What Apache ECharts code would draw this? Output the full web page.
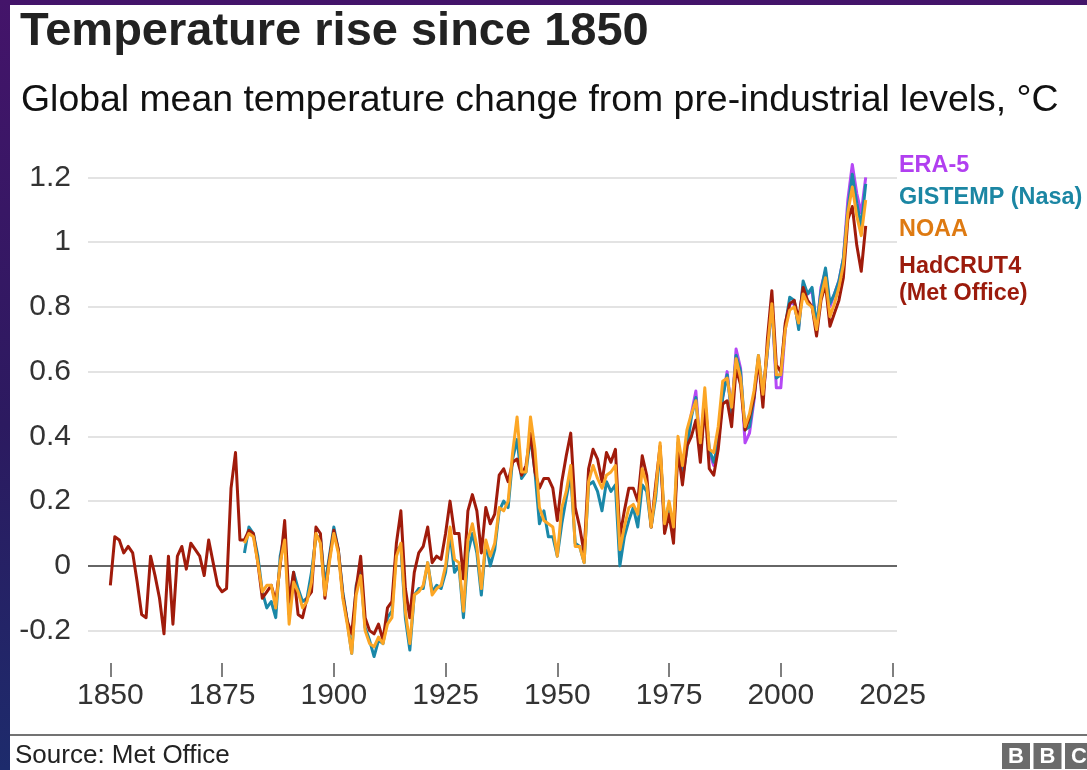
<!DOCTYPE html>
<html>
<head>
<meta charset="utf-8">
<title>Temperature rise since 1850</title>
<script src="https://cdn.jsdelivr.net/npm/echarts@6/dist/echarts.min.js"></script>
<style>
html, body { margin: 0; padding: 0; width: 1087px; height: 770px; overflow: hidden; }
body { background: linear-gradient(180deg, #44146a 0%, #2c1a60 55%, #1d2b6c 100%); }
.panel { position: absolute; left: 10px; top: 5px; right: 0; bottom: 0; background: #fff; }
#chart { position: absolute; left: 0; top: 0; width: 1087px; height: 770px; }
</style>
</head>
<body>
<div class="panel"></div>
<div id="chart"></div>
<script>
// years
const hadStart = 1850
const noaaStart = 1880
const gissStart = 1880
const eraStart = 1979

// HadCRUT4 (Met Office), 1850-2019
const hadcrut = [
  -0.06, 0.09, 0.08, 0.04, 0.06, 0.04, -0.05, -0.15, -0.16, 0.03,
  -0.03, -0.10, -0.21, 0.03, -0.18, 0.03, 0.06, -0.01, 0.07, 0.05,
  0.03, -0.03, 0.08, 0.01, -0.06, -0.08, -0.07, 0.24, 0.35, 0.08,
  0.08, 0.11, 0.10, 0.01, -0.10, -0.08, -0.06, -0.11, 0.00, 0.14,
  -0.11, -0.02, -0.15, -0.16, -0.10, -0.08, 0.12, 0.10, -0.10, 0.02,
  0.11, 0.05, -0.09, -0.17, -0.21, -0.07, 0.03, -0.16, -0.20, -0.21,
  -0.18, -0.23, -0.13, -0.11, 0.07, 0.17, -0.07, -0.16, -0.02, 0.04,
  0.06, 0.12, 0.01, 0.03, 0.02, 0.10, 0.20, 0.10, 0.10, -0.04,
  0.17, 0.22, 0.17, 0.04, 0.18, 0.13, 0.16, 0.28, 0.30, 0.26,
  0.32, 0.33, 0.28, 0.31, 0.41, 0.29, 0.24, 0.27, 0.27, 0.24,
  0.14, 0.26, 0.34, 0.41, 0.18, 0.12, 0.04, 0.30, 0.36, 0.33,
  0.26, 0.35, 0.32, 0.36, 0.09, 0.17, 0.24, 0.24, 0.20, 0.34,
  0.28, 0.12, 0.25, 0.37, 0.10, 0.16, 0.07, 0.36, 0.25, 0.37,
  0.40, 0.45, 0.32, 0.50, 0.30, 0.28, 0.36, 0.50, 0.51, 0.43,
  0.61, 0.56, 0.42, 0.46, 0.52, 0.64, 0.49, 0.70, 0.85, 0.62,
  0.60, 0.75, 0.81, 0.82, 0.76, 0.86, 0.82, 0.80, 0.71, 0.82,
  0.87, 0.74, 0.78, 0.82, 0.89, 1.07, 1.11, 0.99, 0.91, 1.05
]

// GISTEMP (Nasa), 1880-2019
const gistemp = [
  0.04, 0.12, 0.10, 0.03, -0.08, -0.13, -0.11, -0.16, 0.03, 0.10,
  -0.15, -0.02, -0.07, -0.11, -0.10, -0.02, 0.09, 0.09, -0.06, 0.03,
  0.12, 0.05, -0.08, -0.17, -0.27, -0.06, -0.02, -0.19, -0.23, -0.28,
  -0.23, -0.24, -0.16, -0.14, 0.05, 0.06, -0.16, -0.26, -0.09, -0.07,
  -0.07, 0.01, -0.08, -0.06, -0.07, -0.02, 0.10, -0.02, 0.00, -0.16,
  0.04, 0.10, 0.04, -0.09, 0.07, 0.00, 0.05, 0.17, 0.20, 0.18,
  0.33, 0.39, 0.27, 0.29, 0.40, 0.29, 0.13, 0.17, 0.09, 0.09,
  0.03, 0.13, 0.21, 0.28, 0.07, 0.06, 0.01, 0.25, 0.26, 0.23,
  0.17, 0.26, 0.23, 0.25, 0.00, 0.09, 0.14, 0.18, 0.12, 0.25,
  0.23, 0.12, 0.21, 0.36, 0.13, 0.19, 0.10, 0.38, 0.27, 0.36,
  0.46, 0.52, 0.34, 0.51, 0.36, 0.32, 0.38, 0.52, 0.59, 0.47,
  0.65, 0.60, 0.42, 0.43, 0.52, 0.65, 0.53, 0.66, 0.81, 0.58,
  0.59, 0.74, 0.83, 0.82, 0.73, 0.88, 0.84, 0.86, 0.74, 0.85,
  0.92, 0.81, 0.84, 0.88, 0.95, 1.10, 1.21, 1.12, 1.05, 1.18
]

// NOAA, 1880-2019
const noaa = [
  0.07, 0.10, 0.09, 0.01, -0.08, -0.06, -0.06, -0.13, 0.01, 0.08,
  -0.18, -0.05, -0.08, -0.13, -0.11, -0.05, 0.10, 0.07, -0.09, 0.01,
  0.10, 0.04, -0.10, -0.18, -0.27, -0.09, -0.03, -0.20, -0.24, -0.25,
  -0.22, -0.24, -0.18, -0.16, 0.03, 0.07, -0.14, -0.24, -0.09, -0.08,
  -0.06, 0.01, -0.09, -0.07, -0.06, 0.00, 0.12, 0.02, 0.01, -0.14,
  0.08, 0.13, 0.06, -0.07, 0.08, 0.03, 0.07, 0.18, 0.17, 0.20,
  0.35, 0.46, 0.29, 0.29, 0.46, 0.36, 0.18, 0.14, 0.13, 0.12,
  0.03, 0.18, 0.23, 0.31, 0.06, 0.06, 0.01, 0.26, 0.31, 0.27,
  0.24, 0.28, 0.29, 0.31, 0.05, 0.12, 0.18, 0.19, 0.16, 0.30,
  0.25, 0.12, 0.23, 0.38, 0.13, 0.20, 0.12, 0.40, 0.31, 0.42,
  0.47, 0.51, 0.38, 0.55, 0.36, 0.35, 0.43, 0.57, 0.58, 0.49,
  0.64, 0.58, 0.43, 0.47, 0.54, 0.65, 0.53, 0.67, 0.81, 0.59,
  0.59, 0.73, 0.79, 0.80, 0.75, 0.84, 0.81, 0.80, 0.73, 0.83,
  0.89, 0.77, 0.81, 0.86, 0.93, 1.09, 1.17, 1.08, 1.02, 1.13
]

// ERA-5, 1979-2019
const era5 = [
  0.38, 0.47, 0.54, 0.36, 0.52, 0.35, 0.31, 0.38, 0.52, 0.60,
  0.47, 0.67, 0.61, 0.38, 0.41, 0.51, 0.64, 0.52, 0.66, 0.82,
  0.55, 0.55, 0.73, 0.81, 0.81, 0.74, 0.87, 0.84, 0.85, 0.73,
  0.86, 0.91, 0.80, 0.84, 0.88, 0.95, 1.13, 1.24, 1.15, 1.09,
  1.20
]

const yearTicks = [1850, 1875, 1900, 1925, 1950, 1975, 2000, 2025]
const valueTicks = [-0.2, 0, 0.2, 0.4, 0.6, 0.8, 1, 1.2]

const FONT = '"Liberation Sans", Arial, Helvetica, sans-serif'

const toPairs = (start, values) => values.map((v, i) => [start + i, v])

const gridLines = valueTicks.filter(v => v !== 0).map(v => ({
  yAxis: v,
  lineStyle: { color: '#e3e3e3', width: 2, type: 'solid' }
}))

const lineSeries = (name, color, start, values, z) => ({
  name,
  type: 'line',
  data: toPairs(start, values),
  symbol: 'none',
  z,
  lineStyle: { color, width: 3, join: 'round' },
  itemStyle: { color }
})

const legendItems = [
  { text: 'ERA-5', color: '#b13ff0', y: 166 },
  { text: 'GISTEMP (Nasa)', color: '#1b86a3', y: 198 },
  { text: 'NOAA', color: '#de7a12', y: 230 },
  { text: 'HadCRUT4', color: '#9b1b0c', y: 267 },
  { text: '(Met Office)', color: '#9b1b0c', y: 294 }
]

const chart = echarts.init(document.getElementById('chart'))

const option = {
  animation: false,
  backgroundColor: 'transparent',
  grid: { left: 88, right: 190, top: 145, bottom: 107, containLabel: false },
  xAxis: {
    type: 'value',
    min: 1845,
    max: 2026,
    axisLine: { show: false, onZero: false },
    splitLine: { show: false },
    axisTick: {
      show: true,
      customValues: yearTicks,
      length: 14,
      lineStyle: { color: '#555', width: 1.5 }
    },
    axisLabel: {
      customValues: yearTicks,
      margin: 18,
      color: '#333',
      fontSize: 30,
      fontFamily: FONT,
      formatter: v => String(v)
    }
  },
  yAxis: {
    type: 'value',
    min: -0.3,
    max: 1.3,
    axisLine: { show: false },
    axisTick: { show: false },
    splitLine: { show: false },
    axisLabel: {
      customValues: valueTicks,
      margin: 17,
      color: '#333',
      fontSize: 30,
      fontFamily: FONT,
      formatter: v => String(v)
    }
  },
  series: [
    Object.assign(lineSeries('ERA-5', '#b548f5', eraStart, era5, 2), {
      markLine: {
        silent: true,
        symbol: 'none',
        z: 1,
        label: { show: false },
        data: gridLines.concat([
          { yAxis: 0, lineStyle: { color: '#333', width: 1.5, type: 'solid' } }
        ])
      }
    }),
    lineSeries('GISTEMP (Nasa)', '#1a88a8', gissStart, gistemp, 3),
    lineSeries('HadCRUT4 (Met Office)', '#a01b0b', hadStart, hadcrut, 4),
    lineSeries('NOAA', '#fca625', noaaStart, noaa, 5)
  ],
  graphic: [
    {
      type: 'text', x: 20, y: 32,
      style: {
        text: 'Temperature rise since 1850',
        font: 'bold 47px ' + FONT, fill: '#222', verticalAlign: 'middle'
      }
    },
    {
      type: 'text', x: 21, y: 101,
      style: {
        text: 'Global mean temperature change from pre-industrial levels, °C',
        font: '37.4px ' + FONT, fill: '#111', verticalAlign: 'middle'
      }
    },
    ...legendItems.map(item => ({
      type: 'text', x: 899, y: item.y,
      style: {
        text: item.text, font: 'bold 23.4px ' + FONT,
        fill: item.color, verticalAlign: 'middle'
      }
    })),
    {
      type: 'line', shape: { x1: 10, y1: 735, x2: 1087, y2: 735 },
      style: { stroke: '#444', lineWidth: 1.5 }
    },
    {
      type: 'text', x: 15, y: 756,
      style: {
        text: 'Source: Met Office', font: '26px ' + FONT,
        fill: '#222', verticalAlign: 'middle'
      }
    },
    ...['B', 'B', 'C'].map((letter, i) => ({
      type: 'group', x: 1002 + i * 31.5, y: 743,
      children: [
        { type: 'rect', shape: { x: 0, y: 0, width: 28, height: 26 }, style: { fill: '#6b6b6b' } },
        {
          type: 'text', x: 14, y: 13.5,
          style: {
            text: letter, font: 'bold 22px ' + FONT, fill: '#fff',
            align: 'center', verticalAlign: 'middle'
          }
        }
      ]
    }))
  ]
}

chart.setOption(option)

window.addEventListener('resize', () => chart.resize())
</script>
</body>
</html>
